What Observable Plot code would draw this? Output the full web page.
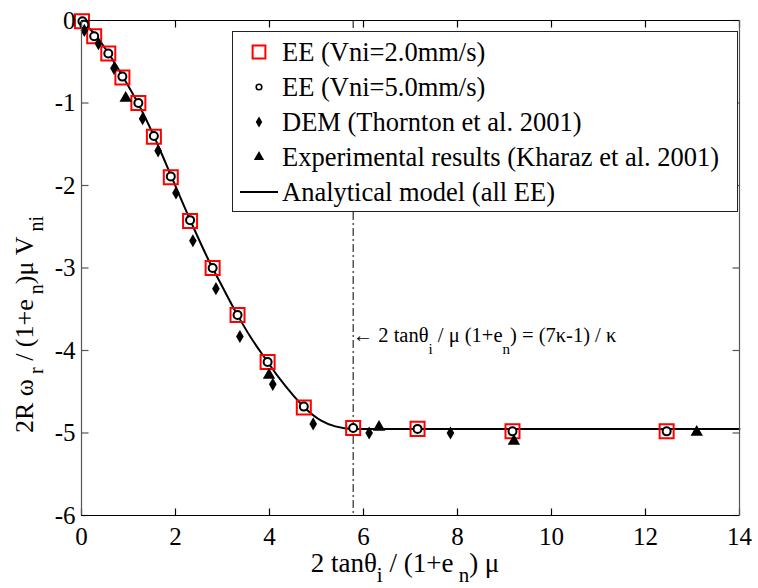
<!DOCTYPE html>
<html>
<head>
<meta charset="utf-8">
<script src="https://cdn.jsdelivr.net/npm/d3@7"></script>
<script src="https://cdn.jsdelivr.net/npm/@observablehq/plot@0.6"></script>
<style>
  body { margin: 0; background: #fff; }
  #chart { position: relative; width: 758px; height: 588px; font-family: 'Liberation Serif', serif; }
  #chart svg, #chart text { font-family: 'Liberation Serif', serif; }
  #legend { position: absolute; left: 232px; top: 31px; }
</style>
</head>
<body>
<div id="chart"></div>
<script>
// Normalised rebound spin vs normalised impact angle
const xDomain = [0, 14];
const yDomain = [-6, 0];
const xTicks = [0, 2, 4, 6, 8, 10, 12, 14];
const yTicks = [-6, -5, -4, -3, -2, -1, 0];

// EE, Vni = 2.0 mm/s
const ee2X = [0.01, 0.27, 0.57, 0.87, 1.21, 1.54, 1.90, 2.31, 2.79, 3.32, 3.96, 4.73, 5.78, 7.15, 9.17, 12.45];
const ee2Y = [-0.01, -0.19, -0.40, -0.69, -1.00, -1.41, -1.90, -2.43, -3.00, -3.57, -4.14, -4.69, -4.94, -4.95, -4.98, -4.98];

// EE, Vni = 5.0 mm/s
const ee5X = [0.02, 0.06, 0.27, 0.57, 0.87, 1.21, 1.54, 1.90, 2.31, 2.79, 3.32, 3.96, 4.73, 5.78, 7.15, 9.17, 12.45];
const ee5Y = [-0.01, -0.05, -0.19, -0.40, -0.68, -1.00, -1.40, -1.89, -2.42, -3.00, -3.57, -4.14, -4.68, -4.94, -4.95, -4.98, -4.98];

// DEM (Thornton et al. 2001)
const demX = [0.06, 0.36, 0.69, 1.30, 1.63, 2.01, 2.37, 2.86, 3.37, 4.07, 4.93, 6.12, 7.85];
const demY = [-0.12, -0.28, -0.58, -1.19, -1.58, -2.09, -2.67, -3.25, -3.83, -4.41, -4.89, -5.00, -5.00];

// Experimental results (Kharaz et al. 2001)
const expX = [0.94, 3.99, 6.33, 9.20, 13.09];
const expY = [-0.94, -4.30, -4.93, -5.10, -4.99];

// Analytical model (all EE)
const modelX = [0, 0.3, 0.6, 0.9, 1.2, 1.5, 1.8, 2.1, 2.4, 2.7, 3.0, 3.3, 3.6, 3.9, 4.2, 4.5, 4.8, 5.1, 5.4, 5.78, 14];
const modelY = [0, -0.18, -0.42, -0.70, -1.00, -1.35, -1.74, -2.14, -2.53, -2.90, -3.23, -3.55, -3.84, -4.09, -4.33, -4.54, -4.72, -4.85, -4.92, -4.95, -4.95];

// Transition: 2 tanθi / μ(1+en) = (7κ-1)/κ
const transitionX = [5.78];
const noteY = -3.83;

const zip = (xs, ys) => xs.map((x, i) => ({x, y: ys[i]}));
const ee2 = zip(ee2X, ee2Y);
const ee5 = zip(ee5X, ee5Y);
const dem = zip(demX, demY);
const exp = zip(expX, expY);
const model = zip(modelX, modelY);

const FONT = "'Liberation Serif', serif";
const W = 758, H = 588;
const M = {left: 81, right: 19, top: 20, bottom: 73};
const innerW = W - M.left - M.right;
const innerH = H - M.top - M.bottom;
const TICK = 7;          // inward tick length, px
const SIDE = "#555";     // left/right box edges and their ticks

// tick length expressed in data units of each axis
const tickDX = TICK * (xDomain[1] - xDomain[0]) / innerW;
const tickDY = TICK * (yDomain[1] - yDomain[0]) / innerH;

// tick segments as explicit records so each end is a channel value
const bottomTicks = xTicks.map(x => ({x, y1: yDomain[0], y2: yDomain[0] + tickDY}));
const topTicks = xTicks.map(x => ({x, y1: yDomain[1], y2: yDomain[1] - tickDY}));
const leftTicks = yTicks.map(y => ({y, x1: xDomain[0], x2: xDomain[0] + tickDX}));
const rightTicks = yTicks.map(y => ({y, x1: xDomain[1], x2: xDomain[1] - tickDX}));

const plot = Plot.plot({
  width: W,
  height: H,
  marginLeft: M.left,
  marginRight: M.right,
  marginTop: M.top,
  marginBottom: M.bottom,
  x: {domain: xDomain},
  y: {domain: yDomain},
  style: {fontFamily: FONT, fontSize: "25px", background: "white", overflow: "visible"},
  marks: [
    Plot.ruleX(transitionX, {stroke: "black", strokeWidth: 1, strokeDasharray: "8,3,2,3"}),
    Plot.line(model, {x: "x", y: "y", stroke: "black", strokeWidth: 2, curve: "monotone-x"}),
    Plot.dot(ee2, {x: "x", y: "y", symbol: "square", r: 7.9, stroke: "#ff0000", strokeWidth: 2, fill: "none"}),
    Plot.dot(ee5, {x: "x", y: "y", symbol: "circle", r: 4, stroke: "black", strokeWidth: 2, fill: "white"}),
    Plot.dot(dem, {x: "x", y: "y", symbol: "diamond", r: 4, fill: "black", stroke: "none"}),
    Plot.dot(exp, {x: "x", y: "y", symbol: "triangle", r: 4.6, fill: "black", stroke: "none"}),
    // inward ticks on all four sides
    Plot.link(bottomTicks, {x1: "x", x2: "x", y1: "y1", y2: "y2", stroke: "black", strokeWidth: 1.2}),
    Plot.link(topTicks, {x1: "x", x2: "x", y1: "y1", y2: "y2", stroke: "black", strokeWidth: 1.2}),
    Plot.link(leftTicks, {x1: "x1", x2: "x2", y1: "y", y2: "y", stroke: SIDE, strokeWidth: 1.2}),
    Plot.link(rightTicks, {x1: "x1", x2: "x2", y1: "y", y2: "y", stroke: SIDE, strokeWidth: 1.2}),
    // tick labels
    Plot.axisX({anchor: "bottom", ticks: xTicks, tickSize: 0, tickPadding: 12, fontSize: 25, fontFamily: FONT, label: null, tickFormat: d => String(d)}),
    Plot.axisY({anchor: "left", ticks: yTicks, tickSize: 0, tickPadding: 6, fontSize: 25, fontFamily: FONT, label: null, tickFormat: d => String(d)}),
    // box
    Plot.ruleX(xDomain, {stroke: SIDE, strokeWidth: 1.2}),
    Plot.ruleY(yDomain, {stroke: "black", strokeWidth: 1.2})
  ]
});

document.getElementById("chart").appendChild(plot);

const svg = d3.select(plot);
const sx = plot.scale("x");
const sy = plot.scale("y");

// Writes a text run with subscript pieces: parts = [[text, isSub], ...]
function richText(sel, parts, subSize, subDy) {
  let down = false;
  for (const [t, sub] of parts) {
    const ts = sel.append("tspan").text(t);
    if (sub && !down) { ts.attr("dy", subDy).style("font-size", subSize + "px"); down = true; }
    else if (sub) { ts.style("font-size", subSize + "px"); }
    else if (down) { ts.attr("dy", -subDy); down = false; }
  }
}

// x-axis label
const xl = svg.append("text")
  .attr("x", 405).attr("y", 572)
  .attr("text-anchor", "middle")
  .style("font-family", FONT).style("font-size", "27px").attr("fill", "black");
richText(xl, [["2 tanθ", false], ["i", true], [" / (1+e", false], [" n", true], [") μ", false]], 21, 10);

// y-axis label
const yl = svg.append("text")
  .attr("transform", "translate(33,433) rotate(-90)")
  .attr("text-anchor", "start")
  .style("font-family", FONT).style("font-size", "26px").attr("fill", "black");
richText(yl, [["2R ω", false], [" r", true], [" / (1+e", false], [" n", true], [")μ V", false], [" ni", true]], 20, 10);

// transition annotation
const note = svg.append("text")
  .attr("x", sx.apply(transitionX[0])).attr("y", sy.apply(noteY) + 6)
  .attr("text-anchor", "start")
  .style("font-family", FONT).style("font-size", "20.5px").attr("fill", "black");
richText(note, [["\u2190 2 tanθ", false], ["i", true], [" / μ (1+e", false], ["n", true], [") = (7κ-1) / κ", false]], 15, 12);

// legend
const legendItems = [
  {label: "EE (Vni=2.0mm/s)", kind: "square"},
  {label: "EE (Vni=5.0mm/s)", kind: "circle"},
  {label: "DEM (Thornton et al. 2001)", kind: "diamond"},
  {label: "Experimental results (Kharaz et al. 2001)", kind: "triangle"},
  {label: "Analytical model (all EE)", kind: "line"}
];
const lg = d3.select("#chart").append("svg")
  .attr("id", "legend").attr("width", 506).attr("height", 181);
lg.append("rect").attr("x", 0.5).attr("y", 0.5).attr("width", 505).attr("height", 180)
  .attr("fill", "white").attr("stroke", "#222").attr("stroke-width", 1);
legendItems.forEach((d, i) => {
  const cy = 21 + i * 35;
  const g = lg.append("g");
  if (d.kind === "line") {
    g.append("line").attr("x1", 8).attr("x2", 46).attr("y1", cy).attr("y2", cy)
      .attr("stroke", "black").attr("stroke-width", 2);
  } else {
    const sym = {square: d3.symbolSquare, circle: d3.symbolCircle, diamond: d3.symbolDiamond, triangle: d3.symbolTriangle}[d.kind];
    const r = {square: 7.2, circle: 2.8, diamond: 3.4, triangle: 3.8}[d.kind];
    const p = g.append("path").attr("transform", `translate(27,${cy})`)
      .attr("d", d3.symbol(sym, r * r * Math.PI)());
    if (d.kind === "square") p.attr("fill", "none").attr("stroke", "#ff0000").attr("stroke-width", 2);
    else if (d.kind === "circle") p.attr("fill", "white").attr("stroke", "black").attr("stroke-width", 1.6);
    else p.attr("fill", "black");
  }
  g.append("text").attr("x", 50).attr("y", cy + 9)
    .style("font-family", FONT).style("font-size", "26.5px").attr("fill", "black")
    .text(d.label);
});
</script>
</body>
</html>
